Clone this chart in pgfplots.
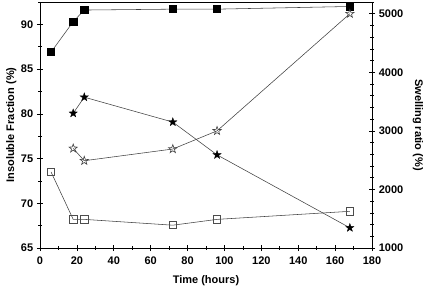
\documentclass[border=0pt]{standalone}
\usepackage{pgfplots}
\pgfplotsset{compat=1.18}
\usepackage{fontspec}
\setmainfont{Liberation Sans}
\pgfdeclareplotmark{pstarpath}{%
  \pgfpathmoveto{\pgfpointpolar{90}{\pgfplotmarksize}}%
  \pgfpathlineto{\pgfpointpolar{126}{0.40\pgfplotmarksize}}%
  \pgfpathlineto{\pgfpointpolar{162}{\pgfplotmarksize}}%
  \pgfpathlineto{\pgfpointpolar{198}{0.40\pgfplotmarksize}}%
  \pgfpathlineto{\pgfpointpolar{234}{\pgfplotmarksize}}%
  \pgfpathlineto{\pgfpointpolar{270}{0.40\pgfplotmarksize}}%
  \pgfpathlineto{\pgfpointpolar{306}{\pgfplotmarksize}}%
  \pgfpathlineto{\pgfpointpolar{342}{0.40\pgfplotmarksize}}%
  \pgfpathlineto{\pgfpointpolar{18}{\pgfplotmarksize}}%
  \pgfpathlineto{\pgfpointpolar{54}{0.40\pgfplotmarksize}}%
  \pgfpathclose
}
\pgfdeclareplotmark{pstar*}{\pgfuseplotmark{pstarpath}\pgfusepathqfillstroke}
\pgfdeclareplotmark{pstar}{\pgfuseplotmark{pstarpath}\pgfusepathqstroke}
\begin{document}
\fontsize{11bp}{13bp}\selectfont\bfseries
\begin{tikzpicture}[x=1bp,y=1bp]
\path[use as bounding box] (-40,-41) rectangle (392,248);
\pgfplotsset{
  common/.style={
    scale only axis, width=332bp, height=246bp,
    at={(0,0)}, anchor=south west,
    xmin=0, xmax=180,
    tick style={black, line width=0.6pt},
    major tick length=6bp, minor tick length=3.5bp,
    tick align=center,
    /pgf/number format/assume math mode=true,
    /pgf/number format/1000 sep={},
    every tick label/.append style={font=\fontsize{11bp}{13bp}\selectfont\bfseries},
    label style={font=\fontsize{11bp}{13bp}\selectfont\bfseries},
    axis line style={line width=0.6pt},
  },
  every axis plot/.append style={line width=0.55pt, black!75},
}
\begin{axis}[common,
  axis y line*=left, axis x line*=bottom,
  ymin=65, ymax=92.5,
  ytick={65,70,...,90}, minor ytick={67.5,72.5,...,92.5},
  xtick={0,20,...,180}, minor xtick={10,30,...,170},
  xlabel={Time (hours)}, ylabel={Insoluble Fraction (\%)},
  ylabel style={yshift=-3bp},
  xticklabel style={yshift=-1.5bp},
  xlabel style={yshift=-4bp},
]
\addplot[mark=square*, mark size=3.6bp, mark options={black, fill=black, solid}] coordinates {
(6,86.9) (18,90.3) (24,91.6) (72,91.7) (96,91.7) (168,92.0)};
\addplot[mark=square, mark size=3.6bp, mark options={black!70, fill=white, solid, line width=0.6pt}] coordinates {
(6,73.5) (18,68.2) (24,68.2) (72,67.55) (96,68.2) (168,69.1)};
\end{axis}
\draw[line width=0.6pt] (0,246) -- (332,246);
\begin{axis}[common,
  axis y line*=right, axis x line=none,
  ymin=1000, ymax=5200,
  ytick={1000,2000,...,5000}, minor ytick={1200,1400,...,5200},
  ylabel={Swelling ratio (\%)},
  ylabel style={rotate=180, yshift=2bp},
]
\addplot[mark=pstar*, mark size=4.4bp, mark options={black, fill=black, line width=0.3pt}] coordinates {
(18,3300) (24,3575) (72,3150) (96,2590) (168,1345)};
\addplot[mark=pstar, mark size=4.4bp, mark options={black!75, line width=0.6pt}] coordinates {
(18,2700) (24,2490) (72,2690) (96,3000) (168,5000)};
\end{axis}
\end{tikzpicture}
\end{document}
